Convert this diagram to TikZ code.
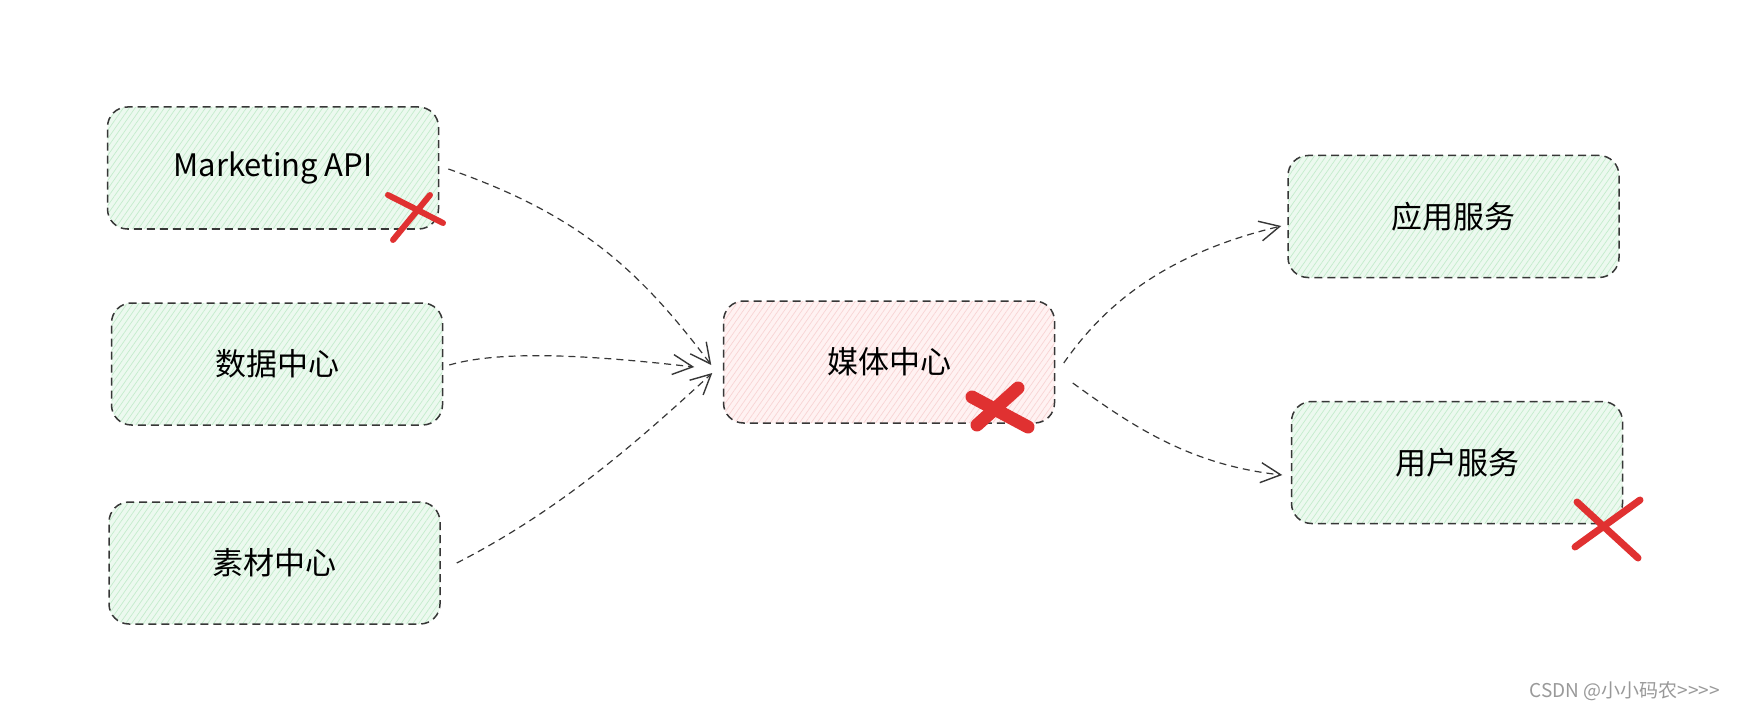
\documentclass[tikz,border=0pt]{standalone}
\usepackage{fontspec}
\usepackage{xcolor}
\usepackage{tikz}
\usetikzlibrary{arrows.meta,patterns.meta}
\setmainfont{Noto Sans CJK SC}
\definecolor{boxline}{RGB}{55,55,55}
\definecolor{greenfill}{RGB}{236,249,239}
\definecolor{greenhatch}{RGB}{196,236,204}
\definecolor{pinkfill}{RGB}{255,242,242}
\definecolor{pinkhatch}{RGB}{248,212,212}
\definecolor{crossred}{RGB}{224,49,49}
\newcommand*{\boxW}{165.5pt}
\newcommand*{\boxH}{61pt}

\tikzset{
  service/.style={draw=boxline, line width=0.75pt, dash pattern=on 4pt off 2.5pt,
    rounded corners=10pt, minimum width=\boxW, minimum height=\boxH,
    font=\fontsize{15.5}{18}\selectfont},
  greenbox/.style={service, preaction={fill=greenfill},
    pattern={Lines[angle=55,distance=2.4pt,line width=0.35pt]}, pattern color=greenhatch},
  pinkbox/.style={service, preaction={fill=pinkfill},
    pattern={Lines[angle=55,distance=2.4pt,line width=0.35pt]}, pattern color=pinkhatch},
  flow/.style={draw=boxline, line width=0.6pt, dash pattern=on 3.5pt off 2.5pt,
    -{Straight Barb[length=10pt,width=10pt,line width=0.7pt]}},
  cross/.style={draw=crossred, line cap=round}
}

\begin{document}
\begin{tikzpicture}[x=0.5pt,y=-0.5pt]
    \useasboundingbox [fill=white] (0,0) rectangle (1743,711);

    % left column
    \node [greenbox] (mkt) at (273,168) {Marketing API};
    \node [greenbox] (data) at (277,364) {数据中心};
    \node [greenbox] (material) at (274.5,563) {素材中心};

    % middle
    \node [pinkbox] (media) at (889,362) {媒体中心};

    % right column
    \node [greenbox] (app) at (1453.5,216.5) {应用服务};
    \node [greenbox] (user) at (1457,462.5) {用户服务};

    % connectors
    \draw [flow] ([shift={(9.5,1)}]mkt.east) .. controls +(132,46) and +(-72,-95) .. ([shift={(-11.5,3)}]media.west);
    \draw [flow] ([shift={(6,1)}]data.east) .. controls +(52,-15) and +(-105,-12) .. ([shift={(-28.5,5)}]media.west);
    \draw [flow] ([shift={(16,0)}]material.east) .. controls +(104,-53) and +(-73,67) .. ([shift={(-10.5,11)}]media.west);
    \draw [flow] ([shift={(8.5,1)}]media.east) .. controls +(37,-53) and +(-122,29) .. ([shift={(-6,9.5)}]app.west);
    \draw [flow] ([shift={(17.5,21)}]media.east) .. controls +(58,42) and +(-93,-10) .. ([shift={(-8.5,12.5)}]user.west);

    % red crosses
    \draw [cross, line width=3pt] (388,195) -- (443,223);
    \draw [cross, line width=3pt] (430,195) -- (393,240);
    \draw [cross, line width=6.5pt] (972,397) -- (1028,427);
    \draw [cross, line width=6.5pt] (1018,388) -- (977,425);
    \draw [cross, line width=3.5pt] (1577,502) -- (1638,558);
    \draw [cross, line width=3.5pt] (1640,500) -- (1575,547);

    \node [anchor=east, text=gray!80, font=\fontsize{9.5}{11}\selectfont] (mark) at (1727,691) {CSDN @小小码农>{}>{}>{}>};
\end{tikzpicture}
\end{document}
